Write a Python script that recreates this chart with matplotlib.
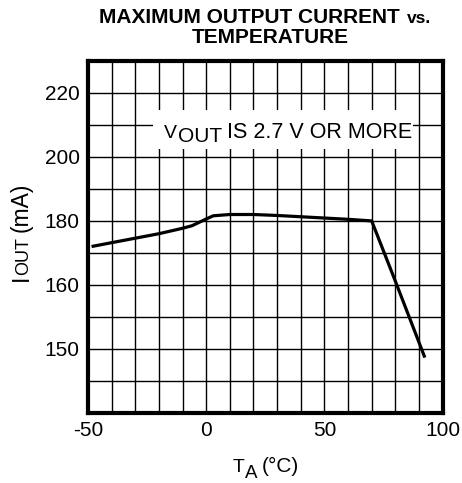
# Corriente máxima de salida vs. temperatura
import numpy as np
import matplotlib.pyplot as plt
from matplotlib.patches import Rectangle
from matplotlib.transforms import IdentityTransform

plt.rcParams["font.family"] = ["Liberation Sans", "DejaVu Sans"]
plt.rcParams["axes.unicode_minus"] = False

# Datos (eje y en unidades de la rejilla)
temp = [-48.5, -40, -30, -20, -10, -6, 0, 3, 10, 20, 30, 40, 50, 60, 70, 80, 92.5]
iout = [172.0, 173.2, 174.6, 176.0, 177.7, 178.5, 180.6, 181.6, 182.0, 182.0, 181.7, 181.3, 180.9, 180.5, 180.0, 161.2, 137.3]

xticks = [-50, 0, 50, 100]
yticks = [140, 160, 180, 200, 220]
yticklabels = ["150", "160", "180", "200", "220"]

W, H = 462, 483
fig = plt.figure(figsize=(W / 100, H / 100), dpi=100)
ax = fig.add_axes([0.1905, 0.145, 0.7675, 0.729])


def texto_partes(cx, cy, partes, rot=0, weight="normal"):
    # partes: (texto, tamaño, desplazamiento vertical px, espacio previo px)
    rend = fig.canvas.get_renderer()
    anchos = []
    for s, size, dy, gap in partes:
        t = fig.text(0, 0, s, fontsize=size, fontweight=weight)
        anchos.append(t.get_window_extent(rend).width)
        t.remove()
    total = sum(anchos) + sum(p[3] for p in partes)
    a = np.deg2rad(rot)
    along = np.array([np.cos(a), np.sin(a)])
    perp = np.array([-np.sin(a), np.cos(a)])
    pos = np.array([cx, cy]) - along * total / 2
    for (s, size, dy, gap), w in zip(partes, anchos):
        pos = pos + along * gap
        p = pos + perp * dy
        fig.text(p[0], p[1], s, fontsize=size, fontweight=weight, rotation=rot,
                 rotation_mode="anchor", ha="left", va="baseline",
                 transform=IdentityTransform(), zorder=5)
        pos = pos + along * w


ax.plot(temp, iout, color="black", lw=2.3, solid_capstyle="butt", zorder=3)

ax.set_xlim(-50, 100)
ax.set_ylim(120, 230)
ax.set_xticks(np.arange(-50, 101, 10), minor=True)
ax.set_yticks(np.arange(120, 231, 10), minor=True)
ax.set_xticks(xticks)
ax.set_yticks(yticks)
ax.set_yticklabels(yticklabels)
ax.grid(True, which="both", color="black", lw=1.0)
ax.tick_params(which="both", length=0, labelsize=15, pad=6)
for s in ax.spines.values():
    s.set_linewidth(3)

# recuadro blanco de la nota
ax.add_patch(Rectangle((-22.5, 202.5), 110.0, 12.2, facecolor="white",
                       edgecolor="none", zorder=2.5))

# nota V_OUT (centro en px de la figura)
texto_partes(288, H - 138.3, [("V", 14, 0, 0), ("OUT", 15, -4, 0.5),
                              ("IS 2.7 V OR MORE", 15.5, 0, 5)])

# título
fig.text(400 / W, 1 - 22.7 / H, "MAXIMUM OUTPUT CURRENT", fontsize=15,
         fontweight="bold", ha="right", va="baseline")
fig.text(407 / W, 1 - 22.7 / H, "vs.", fontsize=12.5, fontweight="bold",
         ha="left", va="baseline")
fig.text(270 / W, 1 - 43.3 / H, "TEMPERATURE", fontsize=15, fontweight="bold",
         ha="center", va="baseline")

# etiquetas de ejes
texto_partes(27.5, H - 232, [("I", 16.5, 0, 0), ("OUT", 13, -0.5, 0),
                             ("(mA)", 16.5, 0, 5)], rot=90)
texto_partes(266, H - 472.5, [("T", 14, 0, 0), ("A", 13.5, -5.5, 0),
                              ("(°C)", 15, 0, 5)])

plt.savefig("out.png", dpi=100)
